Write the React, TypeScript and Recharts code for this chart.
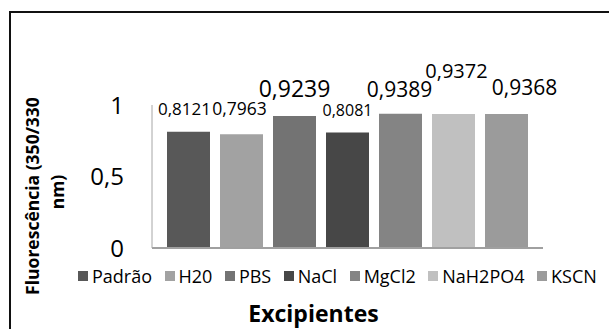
import React from 'react';
import { BarChart, Bar, XAxis, YAxis, Legend, LabelList } from 'recharts';

const categories = ['Excipientes'];
const seriesNames = ['Padrão', 'H20', 'PBS', 'NaCl', 'MgCl2', 'NaH2PO4', 'KSCN'];
const seriesValues = [0.8121, 0.7963, 0.9239, 0.8081, 0.9389, 0.9372, 0.9368];
const yTicks = [0, 0.5, 1];

const seriesColors = ['#585858', '#a2a2a2', '#737373', '#474747', '#848484', '#c0c0c0', '#9b9b9b'];
const labelFontSizes = [17, 17.5, 23, 16, 21, 20, 21];
const labelDx = [-4, -2, 0, 0, -1, 3, 18];
const labelGap = [16.7, 19, 18.8, 16.2, 17, 35.6, 19];

const FONT = "'Open Sans', sans-serif";

const data = categories.map((c) => {
  const row: Record<string, any> = { name: c };
  seriesNames.forEach((n, i) => {
    row[n] = seriesValues[i];
  });
  return row;
});

const fmt = (v: number) => String(v).replace('.', ',');

const makeLabel = (i: number) => (props: any) => {
  const { x, y, width, value } = props;
  return (
    <text
      x={Number(x) + Number(width) / 2 + labelDx[i]}
      y={Number(y) - labelGap[i]}
      textAnchor="middle"
      fontSize={labelFontSizes[i]}
      fontFamily={FONT}
      fill="#000"
    >
      {fmt(value)}
    </text>
  );
};

const YTitle = () => (
  <g fontFamily={FONT} fontWeight="bold" fontSize={17.5} fill="#000">
    <text x={0} y={0} transform="translate(39, 196) rotate(-90)" textAnchor="middle">
      Fluorescência (350/330
    </text>
    <text x={0} y={0} transform="translate(64, 192) rotate(-90)" textAnchor="middle">
      nm)
    </text>
  </g>
);

const XTitle = () => (
  <text x={313.5} y={321.5} textAnchor="middle" fontFamily={FONT} fontWeight="bold" fontSize={23} fill="#000">
    Excipientes
  </text>
);

const renderLegend = (props: any) => {
  const payload = [...(props.payload || [])].sort(
    (a: any, b: any) => seriesNames.indexOf(a.value) - seriesNames.indexOf(b.value)
  );
  return (
    <div
      style={{
        display: 'flex',
        alignItems: 'center',
        paddingLeft: 78,
        fontFamily: FONT,
        fontSize: 18,
        color: '#000',
        whiteSpace: 'nowrap',
      }}
    >
      {payload.map((p: any, i: number) => (
        <div key={i} style={{ display: 'flex', alignItems: 'center', marginRight: 12.5 }}>
          <span style={{ display: 'inline-block', width: 10, height: 10, background: p.color, marginRight: 4 }} />
          <span>{p.value}</span>
        </div>
      ))}
    </div>
  );
};

export default function App() {
  return (
    <div style={{ position: 'absolute', left: 0, top: 0, width: 609, height: 329, overflow: 'hidden', background: '#fff' }}>
      <div
        style={{
          position: 'absolute',
          left: 9,
          top: 11,
          width: 1000,
          height: 1000,
          borderTop: '2px solid #111',
          borderLeft: '2px solid #111',
        }}
      />
      <div style={{ position: 'absolute', left: 0, top: 0 }}>
        <BarChart
          width={609}
          height={329}
          data={data}
          margin={{ top: 105, right: 66, bottom: 51, left: 92 }}
          barSize={43}
          barGap={10}
        >
          <XAxis
            dataKey="name"
            tick={false}
            tickLine={false}
            height={30}
            axisLine={{ stroke: '#a0a0a0', strokeWidth: 2 }}
            label={<XTitle />}
          />
          <YAxis
            domain={[0, 1]}
            ticks={yTicks}
            width={60}
            tickLine={false}
            tickSize={6}
            tickMargin={22}
            tickFormatter={fmt}
            axisLine={{ stroke: '#a6a6a6', strokeWidth: 1 }}
            tick={{ fontSize: 24, fontFamily: FONT, fill: '#000' }}
            label={<YTitle />}
          />
          <Legend
            content={renderLegend}
            layout="horizontal"
            verticalAlign="middle"
            align="center"
            wrapperStyle={{ left: 0, top: 264, width: 609, height: 24 }}
          />
          {seriesNames.map((n, i) => (
            <Bar key={n} dataKey={n} name={n} fill={seriesColors[i]} isAnimationActive={false}>
              <LabelList dataKey={n} content={makeLabel(i)} />
            </Bar>
          ))}
        </BarChart>
      </div>
    </div>
  );
}
